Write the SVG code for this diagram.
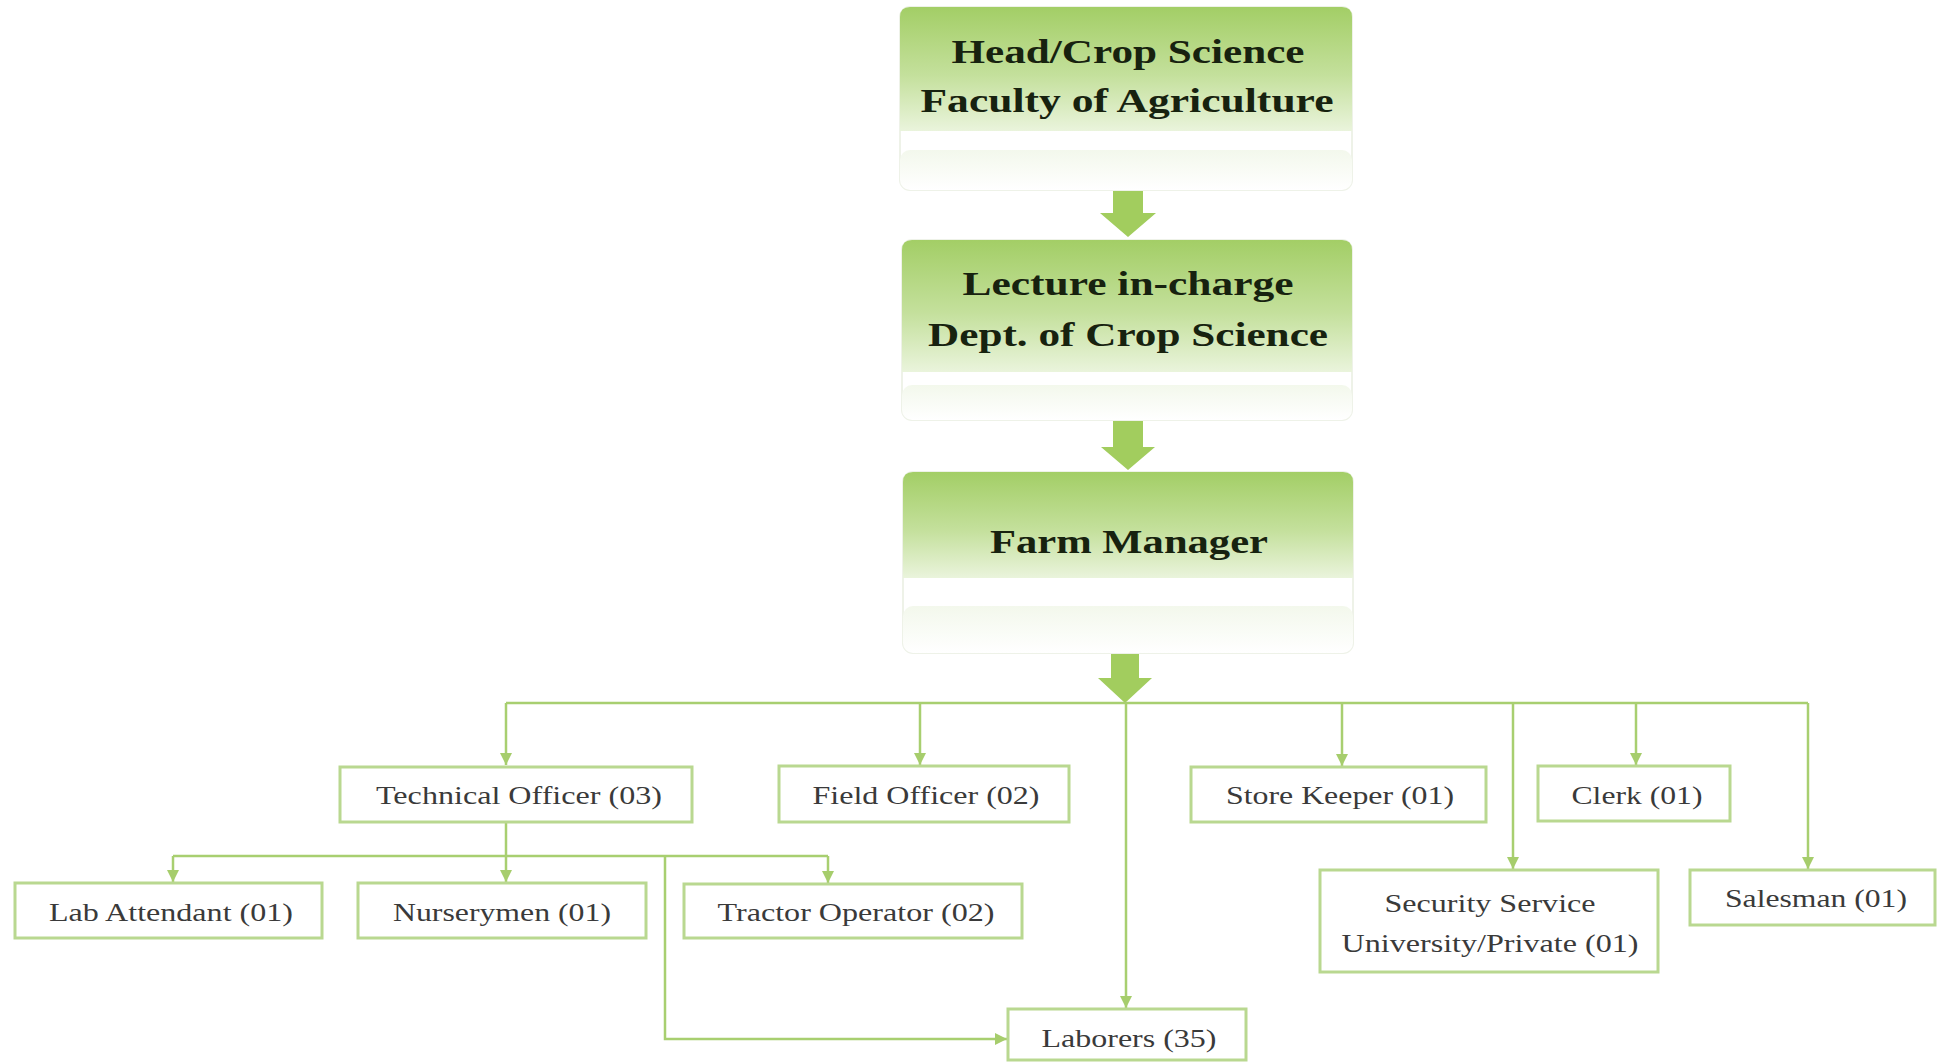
<svg xmlns="http://www.w3.org/2000/svg" width="1937" height="1062" viewBox="0 0 1937 1062">
<defs>
<linearGradient id="gTop" x1="0" y1="0" x2="0" y2="1">
<stop offset="0" stop-color="#a3ce66"/>
<stop offset="0.55" stop-color="#c4e09c"/>
<stop offset="1" stop-color="#eaf4dc"/>
</linearGradient>
<linearGradient id="gLow" x1="0" y1="0" x2="0" y2="1">
<stop offset="0" stop-color="#f3f8ec"/>
<stop offset="1" stop-color="#ffffff"/>
</linearGradient>
<marker id="ah" markerUnits="userSpaceOnUse" markerWidth="14" markerHeight="14" viewBox="0 0 14 14" refX="13" refY="7" orient="auto">
<path d="M1,1 L13,7 L1,13 Z" fill="#a6cd6c"/>
</marker>
</defs>
<style>
.title{font-family:"Liberation Serif","Times New Roman",serif;font-weight:bold;font-size:34px;fill:#17220f;text-anchor:middle}
.lbl{font-family:"Liberation Serif","Times New Roman",serif;font-size:25px;fill:#3a3a3a;text-anchor:middle}
.box{fill:#ffffff;stroke:#b9d890;stroke-width:3}
.shell{fill:#ffffff;stroke:#eef2e8;stroke-width:2}
.con{fill:none;stroke:#a8cf70;stroke-width:2.5}
.big{fill:#a2cd5e}
</style>
<rect width="1937" height="1062" fill="#ffffff"/>

<g id="connectors">
<polygon class="big" points="1113,188 1143,188 1143,213 1156,213 1128,237 1100,213 1113,213"/>
<polygon class="big" points="1113,420 1143,420 1143,447 1155,447 1128,470 1101,447 1113,447"/>
<polygon class="big" points="1111,653 1139,653 1139,678 1152,678 1125,703 1098,678 1111,678"/>
<path class="con" d="M506,703 H1808"/>
<path class="con" d="M506,703 V765" marker-end="url(#ah)"/>
<path class="con" d="M920,703 V765" marker-end="url(#ah)"/>
<path class="con" d="M1342,703 V766" marker-end="url(#ah)"/>
<path class="con" d="M1513,703 V869" marker-end="url(#ah)"/>
<path class="con" d="M1636,703 V765" marker-end="url(#ah)"/>
<path class="con" d="M1808,703 V869" marker-end="url(#ah)"/>
<path class="con" d="M1126,703 V1008" marker-end="url(#ah)"/>
<path class="con" d="M506,822 V856"/>
<path class="con" d="M173,856 H828"/>
<path class="con" d="M173,856 V882" marker-end="url(#ah)"/>
<path class="con" d="M506,856 V882" marker-end="url(#ah)"/>
<path class="con" d="M828,856 V883" marker-end="url(#ah)"/>
<path class="con" d="M665,856 V1039 H1007" marker-end="url(#ah)"/>
</g>

<g id="head">
<rect class="shell" x="900" y="7" width="452" height="183" rx="10"/>
<rect x="900" y="150" width="452" height="40" rx="10" fill="url(#gLow)"/>
<path d="M910,7 H1342 Q1352,7 1352,17 V131 H900 V17 Q900,7 910,7 Z" fill="url(#gTop)"/>
<text class="title" x="1128" y="63" textLength="353" lengthAdjust="spacingAndGlyphs">Head/Crop Science</text>
<text class="title" x="1127" y="112" textLength="413" lengthAdjust="spacingAndGlyphs">Faculty of Agriculture</text>
</g>

<g id="lecturer">
<rect class="shell" x="902" y="240" width="450" height="180" rx="10"/>
<rect x="902" y="385" width="450" height="35" rx="10" fill="url(#gLow)"/>
<path d="M912,240 H1342 Q1352,240 1352,250 V372 H902 V250 Q902,240 912,240 Z" fill="url(#gTop)"/>
<text class="title" x="1128" y="295" textLength="331" lengthAdjust="spacingAndGlyphs">Lecture in-charge</text>
<text class="title" x="1128" y="346" textLength="400" lengthAdjust="spacingAndGlyphs">Dept. of Crop Science</text>
</g>

<g id="farm-manager">
<rect class="shell" x="903" y="472" width="450" height="181" rx="10"/>
<rect x="903" y="606" width="450" height="47" rx="10" fill="url(#gLow)"/>
<path d="M913,472 H1343 Q1353,472 1353,482 V578 H903 V482 Q903,472 913,472 Z" fill="url(#gTop)"/>
<text class="title" x="1129" y="553" textLength="278" lengthAdjust="spacingAndGlyphs">Farm Manager</text>
</g>

<g id="technical-officer">
<rect class="box" x="340" y="767" width="352" height="55"/>
<text class="lbl" x="519" y="804" textLength="286" lengthAdjust="spacingAndGlyphs">Technical Officer (03)</text>
</g>
<g id="field-officer">
<rect class="box" x="779" y="766" width="290" height="56"/>
<text class="lbl" x="926" y="804" textLength="227" lengthAdjust="spacingAndGlyphs">Field Officer (02)</text>
</g>
<g id="store-keeper">
<rect class="box" x="1191" y="767" width="295" height="55"/>
<text class="lbl" x="1340" y="804" textLength="228" lengthAdjust="spacingAndGlyphs">Store Keeper (01)</text>
</g>
<g id="clerk">
<rect class="box" x="1538" y="766" width="192" height="55"/>
<text class="lbl" x="1637" y="804" textLength="131" lengthAdjust="spacingAndGlyphs">Clerk (01)</text>
</g>
<g id="security">
<rect class="box" x="1320" y="870" width="338" height="102"/>
<text class="lbl" x="1490" y="912" textLength="211" lengthAdjust="spacingAndGlyphs">Security Service</text>
<text class="lbl" x="1490" y="952" textLength="297" lengthAdjust="spacingAndGlyphs">University/Private (01)</text>
</g>
<g id="salesman">
<rect class="box" x="1690" y="870" width="245" height="55"/>
<text class="lbl" x="1816" y="907" textLength="182" lengthAdjust="spacingAndGlyphs">Salesman (01)</text>
</g>
<g id="lab-attendant">
<rect class="box" x="15" y="883" width="307" height="55"/>
<text class="lbl" x="171" y="921" textLength="244" lengthAdjust="spacingAndGlyphs">Lab Attendant (01)</text>
</g>
<g id="nurserymen">
<rect class="box" x="358" y="883" width="288" height="55"/>
<text class="lbl" x="502" y="921" textLength="218" lengthAdjust="spacingAndGlyphs">Nurserymen (01)</text>
</g>
<g id="tractor-operator">
<rect class="box" x="684" y="884" width="338" height="54"/>
<text class="lbl" x="856" y="921" textLength="277" lengthAdjust="spacingAndGlyphs">Tractor Operator (02)</text>
</g>
<g id="laborers">
<rect class="box" x="1008" y="1009" width="238" height="51"/>
<text class="lbl" x="1129" y="1047" textLength="175" lengthAdjust="spacingAndGlyphs">Laborers (35)</text>
</g>
</svg>
